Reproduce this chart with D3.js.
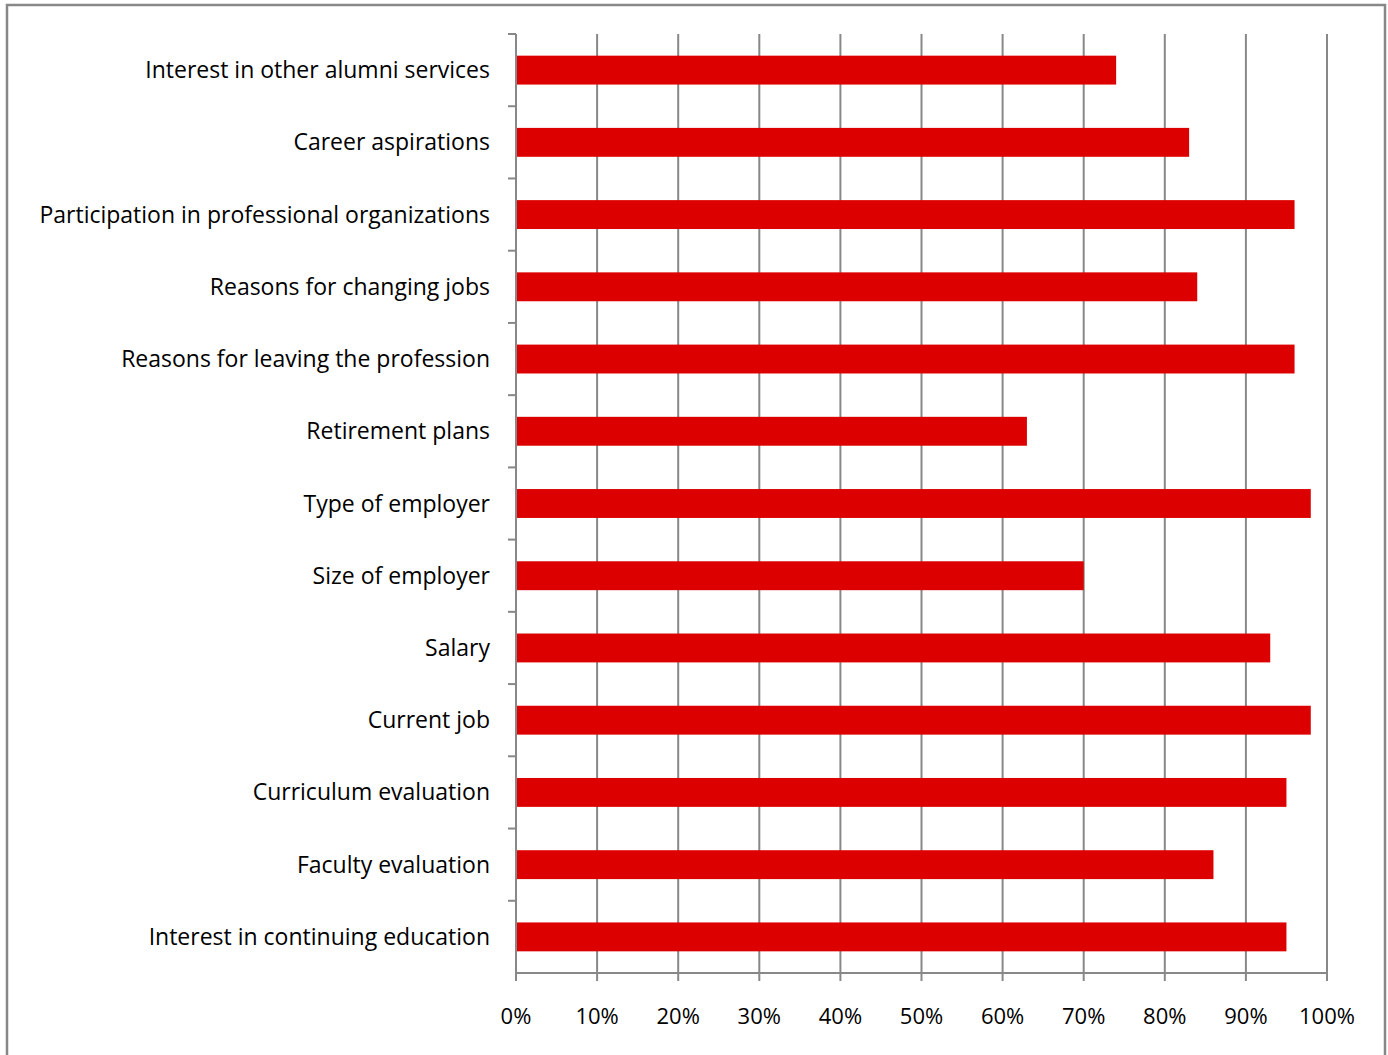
<!DOCTYPE html>
<html>
<head>
<meta charset="utf-8">
<script src="https://cdn.jsdelivr.net/npm/d3@7"></script>
<style>
  body { margin: 0; background: #fff; }
  svg { display: block; }
</style>
</head>
<body>
<svg width="1388" height="1055"></svg>
<script>
// categories top to bottom
var categories = [
  "Interest in other alumni services",
  "Career aspirations",
  "Participation in professional organizations",
  "Reasons for changing jobs",
  "Reasons for leaving the profession",
  "Retirement plans",
  "Type of employer",
  "Size of employer",
  "Salary",
  "Current job",
  "Curriculum evaluation",
  "Faculty evaluation",
  "Interest in continuing education"
];
var values = [74, 83, 96, 84, 96, 63, 98, 70, 93, 98, 95, 86, 95];
var xTicks = [0, 10, 20, 30, 40, 50, 60, 70, 80, 90, 100];

var svg = d3.select("svg");
var fontFam = "'Open Sans', sans-serif";

// outer frame
svg.append("rect")
  .attr("x", 7).attr("y", 5)
  .attr("width", 1378).attr("height", 1060)
  .attr("fill", "none")
  .attr("stroke", "#888")
  .attr("stroke-width", 2.5);

var plotL = 516, plotR = 1327, plotT = 34, plotB = 973;

var x = d3.scaleLinear().domain([0, 100]).range([plotL, plotR]);
var y = d3.scaleBand().domain(categories).range([plotT, plotB]).paddingInner(0.6).paddingOuter(0.3);
var yb = d3.scaleBand().domain(categories).range([plotT, plotB]);

// gridlines
svg.append("g")
  .selectAll("line")
  .data(xTicks.slice(1))
  .join("line")
  .attr("x1", d => x(d)).attr("x2", d => x(d))
  .attr("y1", plotT).attr("y2", plotB + 8)
  .attr("stroke", "#888")
  .attr("stroke-width", 2);

// x axis line + ticks
svg.append("line")
  .attr("x1", plotL).attr("x2", plotR)
  .attr("y1", plotB).attr("y2", plotB)
  .attr("stroke", "#888").attr("stroke-width", 2);
svg.append("line")
  .attr("x1", plotL).attr("x2", plotL)
  .attr("y1", plotB).attr("y2", plotB + 8)
  .attr("stroke", "#888").attr("stroke-width", 2);

svg.append("g")
  .selectAll("text")
  .data(xTicks)
  .join("text")
  .attr("x", d => x(d))
  .attr("y", 1024)
  .attr("text-anchor", "middle")
  .attr("font-family", fontFam)
  .attr("font-size", 22)
  .attr("fill", "#000")
  .text(d => d + "%");

// bars
svg.append("g")
  .selectAll("rect")
  .data(values)
  .join("rect")
  .attr("x", x(0) + 1)
  .attr("y", (d, i) => y(categories[i]))
  .attr("width", d => x(d) - x(0) - 1)
  .attr("height", y.bandwidth())
  .attr("fill", "#dd0000");

// y axis line
svg.append("line")
  .attr("x1", plotL).attr("x2", plotL)
  .attr("y1", plotT).attr("y2", plotB)
  .attr("stroke", "#888").attr("stroke-width", 2);

// y ticks at band boundaries
var bounds = categories.map(c => yb(c));
svg.append("g")
  .selectAll("line")
  .data(bounds)
  .join("line")
  .attr("x1", plotL - 8).attr("x2", plotL)
  .attr("y1", d => d).attr("y2", d => d)
  .attr("stroke", "#888").attr("stroke-width", 2);

// category labels
svg.append("g")
  .selectAll("text")
  .data(categories)
  .join("text")
  .attr("x", 490)
  .attr("y", d => yb(d) + yb.bandwidth() / 2)
  .attr("dy", "0.35em")
  .attr("text-anchor", "end")
  .attr("font-family", fontFam)
  .attr("font-size", 23)
  .attr("fill", "#000")
  .text(d => d);
</script>
</body>
</html>
